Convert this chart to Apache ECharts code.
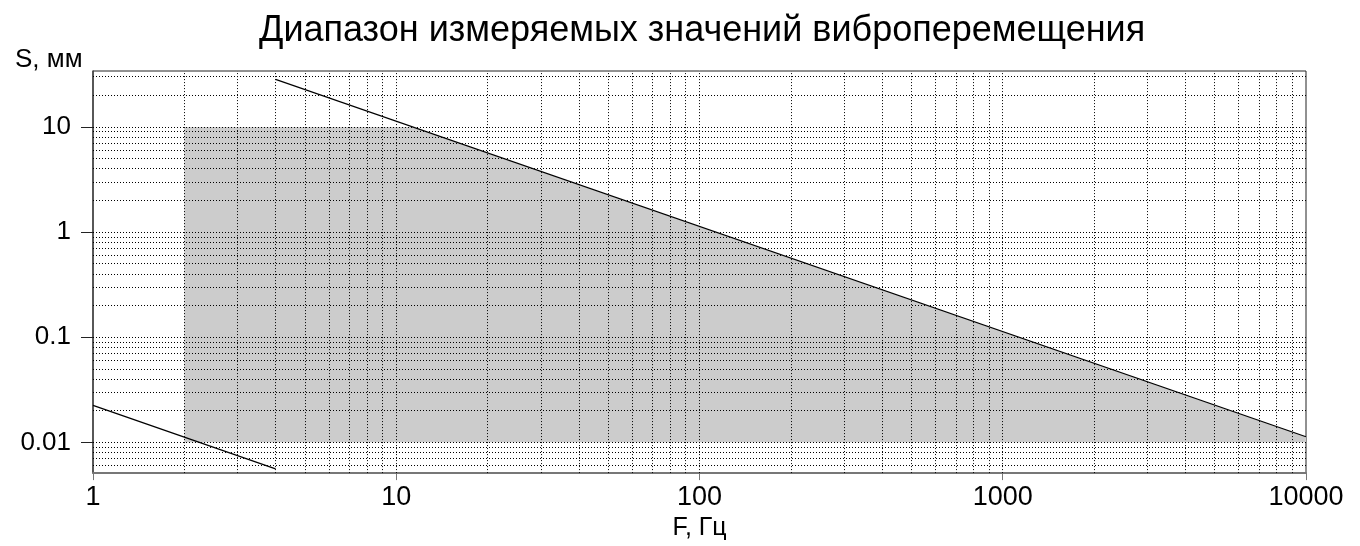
<!DOCTYPE html>
<html>
<head>
<meta charset="utf-8">
<script src="https://cdn.jsdelivr.net/npm/echarts@6/dist/echarts.min.js"></script>
<style>
  html, body {margin: 0; padding: 0; background: #fff;}
  #chart {width: 1360px; height: 546px;}
</style>
</head>
<body>
<div id="chart"></div>
<script>
// axis ranges and labelled decades
const X_MIN = 1, X_MAX = 10000;
const Y_MIN = 0.0051, Y_MAX = 34;
const X_LABELS = [1, 10, 100, 1000, 10000];
const Y_LABELS = [0.01, 0.1, 1, 10];
const MULTS = [1, 2, 3, 4, 5, 6, 7, 8, 9];

// measurement range (gray area) and the two limit lines
const RANGE_AREA = [[2, 0.01], [2, 10], [11.3, 10], [10000, 0.0113], [10000, 0.01]];
const UPPER_LINE = [[4, 28.3], [10000, 0.0113]];
const LOWER_LINE = [[1, 0.0225], [4, 0.0056]];

const font = '"Liberation Sans", Arial, sans-serif';

// dotted grid lines at 1..9 of each decade
let gridSegs = [];
X_LABELS.forEach(function (d) {
  MULTS.forEach(function (m) {
    let v = d * m;
    if (v > X_MIN && v < X_MAX) gridSegs.push({coords: [[v, Y_MIN], [v, Y_MAX]]});
  });
});
[0.001, 0.01, 0.1, 1, 10].forEach(function (d) {
  MULTS.forEach(function (m) {
    let v = d * m;
    if (v > Y_MIN && v < Y_MAX) gridSegs.push({coords: [[X_MIN, v], [X_MAX, v]]});
  });
});

let chart = echarts.init(document.getElementById('chart'), null, {renderer: 'canvas'});
let option = {
  animation: false,
  title: [
    {
      text: 'Диапазон измеряемых значений виброперемещения',
      left: 254, top: 8,
      textStyle: {fontFamily: font, fontSize: 36, fontWeight: 'normal', color: '#000'}
    },
    {
      text: 'S, мм',
      left: 10, top: 42,
      textStyle: {fontFamily: font, fontSize: 26, fontWeight: 'normal', color: '#000'}
    }
  ],
  grid: {
    left: 93, right: 54, top: 71, bottom: 72,
    show: true, borderColor: '#222', borderWidth: 1, backgroundColor: '#fff'
  },
  xAxis: {
    type: 'log', logBase: 10, min: X_MIN, max: X_MAX,
    name: 'F, Гц', nameLocation: 'middle', nameGap: 40,
    nameTextStyle: {fontFamily: font, fontSize: 25, color: '#000'},
    axisLine: {lineStyle: {color: '#777', width: 2}},
    axisTick: {length: 7, lineStyle: {color: '#777'}, customValues: X_LABELS},
    axisLabel: {fontFamily: font, fontSize: 27, color: '#000', margin: 11, customValues: X_LABELS,
      formatter: function (v) { return String(v); }},
    splitLine: {show: false}
  },
  yAxis: {
    type: 'log', logBase: 10, min: Y_MIN, max: Y_MAX,
    axisLine: {lineStyle: {color: '#444', width: 1.5}},
    axisTick: {length: 12, lineStyle: {color: '#222'}, customValues: Y_LABELS},
    axisLabel: {fontFamily: font, fontSize: 26, color: '#000', margin: 22, customValues: Y_LABELS,
      formatter: function (v) { return String(v); }},
    splitLine: {show: false}
  },
  series: [
    {
      type: 'custom',
      z: 1,
      data: [0],
      renderItem: function (params, api) {
        return {
          type: 'polygon',
          shape: {points: RANGE_AREA.map(function (p) { return api.coord(p); })},
          style: {fill: '#cccccc'}
        };
      }
    },
    {
      type: 'lines',
      coordinateSystem: 'cartesian2d',
      z: 2,
      silent: true,
      lineStyle: {color: '#000', width: 1, type: [1, 2], opacity: 1},
      data: gridSegs
    },
    {
      type: 'line', z: 3, data: UPPER_LINE, symbol: 'none',
      lineStyle: {color: '#000', width: 1.2}
    },
    {
      type: 'line', z: 3, data: LOWER_LINE, symbol: 'none',
      lineStyle: {color: '#000', width: 1.2}
    }
  ]
};
chart.setOption(option);
</script>
</body>
</html>
